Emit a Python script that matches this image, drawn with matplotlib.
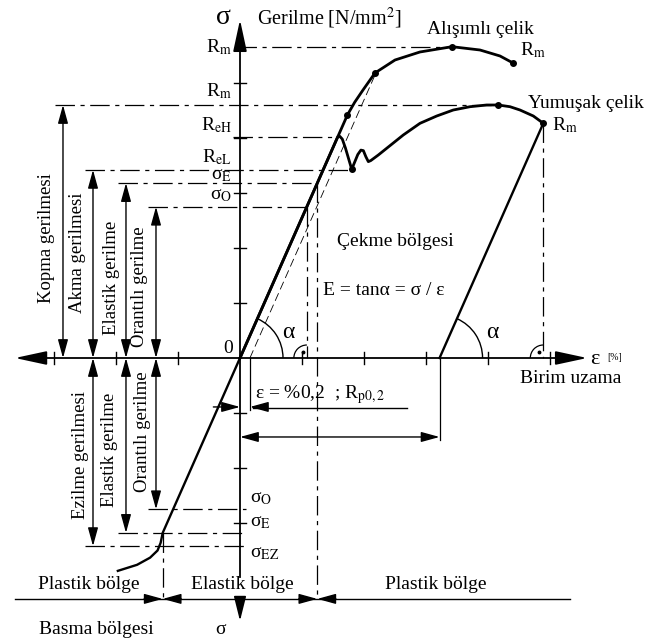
import numpy as np
import matplotlib.pyplot as plt
from matplotlib.patches import Arc

plt.rcParams['font.family'] = ['Liberation Serif', 'DejaVu Serif']
plt.rcParams['mathtext.fontset'] = 'stix'
plt.rcParams['lines.scale_dashes'] = False

# ── değerler (eksen bölmesi cinsinden) ─────────────────────
E = 2.55          # elastik doğrunun eğimi  (σ / ε)
eps_off = 0.16    # %0,2 kalıcı uzama

Rm_a = 5.66       # alışımlı çelik R_m
Rm_y = 4.60       # yumuşak çelik R_m
ReH = 4.02
ReL = 3.42
sig_E = 3.18
sig_O = 2.75
sig_ez = -3.42

# alışımlı çelik eğrisi
alis_eps = [0, 1.733, 1.85, 1.984, 2.177, 2.50, 2.903, 3.419, 3.871, 4.194, 4.403]
alis_sig = [0, 4.42, 4.65, 4.873, 5.182, 5.418, 5.564, 5.66, 5.60, 5.491, 5.364]
alis_dots = [1, 4, 7, 10]

# yumuşak çelik eğrisi
yum_eps = [0, 1.576, 1.61, 1.65, 1.70, 1.802, 1.90, 1.95, 1.99, 2.03, 2.07, 2.11,
           2.231, 2.366, 2.634, 2.903, 3.173, 3.44, 3.71, 3.979, 4.166, 4.355,
           4.516, 4.731, 4.892]
yum_sig = [0, 4.02, 4.03, 3.98, 3.82, 3.431, 3.70, 3.78, 3.77, 3.66, 3.57, 3.59,
           3.691, 3.813, 4.055, 4.267, 4.40, 4.509, 4.569, 4.60, 4.60, 4.569,
           4.509, 4.40, 4.267]
yum_dots = [5, 20, 24]

# basma bölgesi eğrisi
bas_eps = [0, -1.247, -1.28, -1.33, -1.45, -1.66, -1.97]
bas_sig = [0, -3.18, -3.36, -3.50, -3.63, -3.76, -3.87]

fig = plt.figure(figsize=(6.57, 6.41), dpi=100)
ax = fig.add_axes([0, 0, 1, 1])
ax.set_xlim(-240 / 62, 417 / 62)
ax.set_ylim(-283 / 55, 358 / 55)
ax.axis('off')

K = 'black'
DD = (0, (14, 4, 3, 4))   # kesik-noktalı çizgi
LW = 0.9


def guide(x, y):
    ax.plot(x, y, color=K, lw=LW, ls=DD)


def arrow(p0, p1, style='<|-|>', hl=0.8, hw=0.22, lw=1.0, ms=14):
    ax.annotate('', xy=p1, xytext=p0,
                arrowprops=dict(arrowstyle=f'{style},head_length={hl},head_width={hw}',
                                lw=lw, color=K, shrinkA=0, shrinkB=0,
                                mutation_scale=ms))


# eksenler
arrow((-3.63, 0), (5.60, 0), style='<|-|>', hl=1.3, hw=0.28, lw=1.3, ms=15)
ax.plot([0, 0], [-3.98, 5.8], color=K, lw=1.3)
arrow((0, 5.6), (0, 6.15), style='-|>', hl=1.3, hw=0.28, lw=1.3, ms=15)
arrow((0, -4.48), (0, -4.78), style='-|>', hl=1.0, hw=0.25, lw=1.2, ms=15)
ax.plot([-3.63, 5.32], [-4.38, -4.38], color=K, lw=1.0)

for k in [-3, -2, -1, 1, 2, 3, 4, 5]:
    ax.plot([k, k], [-0.11, 0.11], color=K, lw=1.0)
for k in [-3, -2, -1, 1, 2, 3, 4, 5]:
    ax.plot([-0.1, 0.1], [k, k], color=K, lw=1.0)

# yatay yardımcı çizgiler
guide([-0.05, alis_eps[7]], [Rm_a, Rm_a])
guide([-2.98, yum_eps[20]], [Rm_y, Rm_y])
guide([-0.11, ReH / E], [ReH, ReH])
guide([-2.50, yum_eps[5]], [ReL, ReL])
guide([-1.97, sig_E / E], [sig_E, sig_E])
guide([-1.48, sig_O / E], [sig_O, sig_O])
guide([-1.48, 0.1], [-sig_O, -sig_O])
guide([-1.97, 0.1], [-sig_E, -sig_E])
guide([-2.50, 0.1], [sig_ez, sig_ez])

# düşey yardımcı çizgiler
guide([sig_O / E, sig_O / E], [sig_O, 0])
guide([sig_E / E, sig_E / E], [sig_E, -4.38])
guide([-sig_E / E, -sig_E / E], [-sig_E, -4.38])
guide([yum_eps[-1], yum_eps[-1]], [yum_sig[-1], 0])

# eğriler
ax.plot(alis_eps, alis_sig, color=K, lw=2.0, solid_joinstyle='round')
ax.plot(yum_eps, yum_sig, color=K, lw=2.0, solid_joinstyle='round')
ax.plot(bas_eps, bas_sig, color=K, lw=1.7, solid_joinstyle='round')
x_unload = yum_eps[-1] - yum_sig[-1] / E
ax.plot([yum_eps[-1], x_unload], [yum_sig[-1], 0], color=K, lw=1.7)
ax.plot([eps_off, eps_off + alis_sig[4] / E], [0, alis_sig[4]],
        color=K, lw=0.6, ls=(0, (6, 3)))

ax.plot([alis_eps[i] for i in alis_dots], [alis_sig[i] for i in alis_dots],
        'o', color=K, ms=4)
ax.plot([yum_eps[i] for i in yum_dots], [yum_sig[i] for i in yum_dots],
        'o', color=K, ms=4)

# sol taraftaki ölçü okları
arrow((-2.855, 0), (-2.855, Rm_y))
arrow((-2.371, 0), (-2.371, ReL))
arrow((-1.839, 0), (-1.839, sig_E))
arrow((-1.355, 0), (-1.355, sig_O))
arrow((-2.371, 0), (-2.371, sig_ez))
arrow((-1.839, 0), (-1.839, -sig_E))
arrow((-1.355, 0), (-1.355, -sig_O))

# %0,2 ve geri dönüş ölçüleri
ax.plot([eps_off, eps_off], [0, -0.945], color=K, lw=0.9)
ax.plot([x_unload, x_unload], [0, -1.49], color=K, lw=0.9)
arrow((0, -1.436), (x_unload, -1.436))
arrow((-0.43, -0.89), (0, -0.89), style='-|>')
arrow((0.45, -0.89), (eps_off, -0.89), style='-|>')
ax.plot([0.21, 2.69], [-0.91, -0.91], color=K, lw=1.0)

# açılar ve dik açı işaretleri
alpha = np.degrees(np.arctan(E))
for xc in [0, x_unload]:
    ax.add_patch(Arc((xc, 0), 2 * 43 / 62, 2 * 43 / 55, theta1=0, theta2=alpha,
                     color=K, lw=1.0))
for xc in [sig_O / E, yum_eps[-1]]:
    ax.add_patch(Arc((xc, 0), 2 * 13 / 62, 2 * 13 / 55, theta1=90, theta2=180,
                     color=K, lw=0.9))
    ax.plot(xc - 0.065, 0.11, 'o', color=K, ms=1.8)

# yazılar
fs = 14
ax.text(-0.27, 6.2, 'σ', fontsize=20, ha='center', va='center')
ax.text(0.27, 6.18, 'Gerilme [N/mm$^2$]', fontsize=14.5, ha='left', va='center')
lab = dict(fontsize=fs, ha='right', va='center')
ax.text(-0.13, Rm_a, 'R$_\\mathrm{m}$', **lab)
ax.text(-0.13, 4.855, 'R$_\\mathrm{m}$', **lab)
ax.text(-0.13, 4.236, 'R$_\\mathrm{eH}$', **lab)
ax.text(-0.13, 3.655, 'R$_\\mathrm{eL}$', **lab)
ax.text(-0.13, 3.33, 'σ$_\\mathrm{E}$', **lab)
ax.text(-0.13, 2.96, 'σ$_\\mathrm{O}$', **lab)
low = dict(fontsize=fs, ha='left', va='center')
ax.text(0.16, -2.545, 'σ$_\\mathrm{O}$', **low)
ax.text(0.16, -2.98, 'σ$_\\mathrm{E}$', **low)
ax.text(0.16, -3.545, 'σ$_\\mathrm{EZ}$', **low)

ax.text(3.016, 5.964, 'Alışımlı çelik', fontsize=fs, ha='left', va='center')
ax.text(4.516, 5.6, 'R$_\\mathrm{m}$', fontsize=fs, ha='left', va='center')
ax.text(4.645, 4.636, 'Yumuşak çelik', fontsize=fs, ha='left', va='center')
ax.text(5.03, 4.236, 'R$_\\mathrm{m}$', fontsize=fs, ha='left', va='center')
ax.text(1.565, 2.11, 'Çekme bölgesi', fontsize=fs, ha='left', va='center')
ax.text(1.34, 1.236, 'E = tanα = σ / ε', fontsize=fs, ha='left', va='center')
ax.text(0.774, 0.455, 'α', fontsize=17, ha='center', va='center')
ax.text(4.065, 0.455, 'α', fontsize=17, ha='center', va='center')
ax.text(-0.19, 0.17, '0', fontsize=fs, ha='center', va='center')
ax.text(5.73, -0.02, 'ε', fontsize=16, ha='center', va='center')
ax.text(5.92, 0.0, '[%]', fontsize=7, ha='left', va='center')
ax.text(4.516, -0.364, 'Birim uzama', fontsize=fs, ha='left', va='center')
ax.text(0.24, -0.67, 'ε = %0,2  ; R$_\\mathrm{p0,2}$', fontsize=fs,
        ha='left', va='center')

rot = dict(fontsize=13.5, ha='center', va='center', rotation=90)
ax.text(-3.113, 2.18, 'Kopma gerilmesi', **rot)
ax.text(-2.613, 1.91, 'Akma gerilmesi', **rot)
ax.text(-2.065, 1.455, 'Elastik gerilme', **rot)
ax.text(-1.613, 1.29, 'Orantılı gerilme', **rot)
ax.text(-2.58, -1.764, 'Ezilme gerilmesi', **rot)
ax.text(-2.097, -1.673, 'Elastik gerilme', **rot)
ax.text(-1.565, -1.345, 'Orantılı gerilme', **rot)

ax.text(-2.435, -4.127, 'Plastik bölge', fontsize=fs, ha='center', va='center')
ax.text(0.032, -4.127, 'Elastik bölge', fontsize=fs, ha='center', va='center')
ax.text(3.16, -4.127, 'Plastik bölge', fontsize=fs, ha='center', va='center')
ax.text(-2.32, -4.945, 'Basma bölgesi', fontsize=fs, ha='center', va='center')
ax.text(-0.32, -4.945, 'σ', fontsize=fs, ha='center', va='center')

# bölge sınırlarındaki oklar
for xb in [-sig_E / E, sig_E / E]:
    arrow((xb - 0.3, -4.38), (xb, -4.38), style='-|>')
    arrow((xb + 0.3, -4.38), (xb, -4.38), style='-|>')

fig.savefig('out.png', dpi=100)
